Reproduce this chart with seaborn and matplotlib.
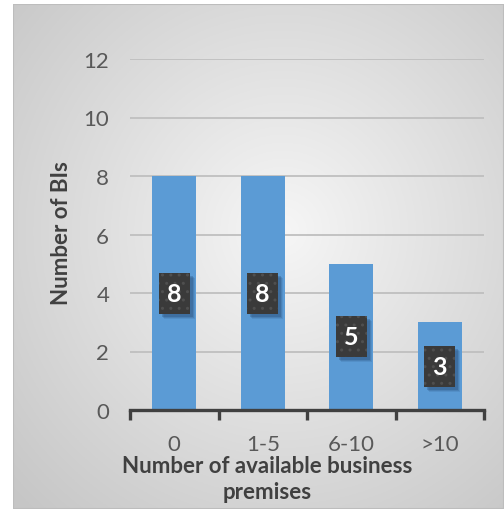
import numpy as np
import pandas as pd
import matplotlib
matplotlib.use("Agg")
import matplotlib.pyplot as plt
import matplotlib.transforms as mtrans
from matplotlib.patches import Rectangle
import seaborn as sns

categories = ["0", "1-5", "6-10", ">10"]
values = [8, 8, 5, 3]
y_ticks = [0, 2, 4, 6, 8, 10, 12]

sns.set_theme(style="white")
plt.rcParams['font.family'] = ['Lato', 'DejaVu Sans']
plt.rcParams['hatch.linewidth'] = 1.0

W, H = 504, 510
fig = plt.figure(figsize=(W / 100, H / 100), dpi=100)
fig.patch.set_facecolor('white')

# gradient background panel
bg = fig.add_axes([13 / W, 0, 1 - 13 / W, 1 - 5 / H])
bg.set_axis_off()
yy, xx = np.mgrid[0:1:300j, 0:1:300j]
r = np.sqrt(((xx - 0.55) / 0.75) ** 2 + ((yy - 0.45) / 0.75) ** 2)
r = np.clip(r, 0, 1)
c0 = np.array([0.965, 0.965, 0.965])
c1 = np.array([0.78, 0.78, 0.78])
img = c0[None, None, :] * (1 - r[..., None]) + c1[None, None, :] * r[..., None]
bg.imshow(img, extent=[0, 1, 0, 1], aspect='auto', origin='upper')
bg.set_xlim(0, 1)
bg.set_ylim(0, 1)
bg.add_patch(Rectangle((0, 0), 1, 1, fill=False, ec='#bdbdbd', lw=1.5,
                       transform=bg.transAxes))

ax = fig.add_axes([130 / W, (H - 411) / H, (484 - 130) / W, (411 - 60) / H])
ax.set_facecolor('none')

df = pd.DataFrame({"cat": categories, "val": values})
sns.barplot(data=df, x="cat", y="val", color="#5B9BD5", saturation=1,
            width=0.5, ax=ax, zorder=3, linewidth=0, edgecolor='none')

ax.set_xlim(-0.5, 3.5)
ax.set_ylim(0, 12)
ax.set_yticks(y_ticks)
ax.grid(axis='y', color='#bfbfbf', lw=1.3, zorder=0)
ax.set_axisbelow(True)
for s in ['top', 'right', 'left']:
    ax.spines[s].set_visible(False)
ax.spines['bottom'].set_color('#404040')
ax.spines['bottom'].set_linewidth(2.4)
ax.spines['bottom'].set_zorder(5)

ax.set_xticks(np.arange(-0.5, 4, 1), minor=True)
ax.tick_params(axis='x', which='minor', length=7, width=2.4, color='#404040',
               direction='out', bottom=True)
ax.tick_params(axis='x', which='major', length=0, pad=17, labelsize=16,
               labelcolor='#595959')
ax.tick_params(axis='y', length=0, pad=15, labelsize=16, labelcolor='#595959')
ax.set_xlabel("")
ax.set_ylabel("")

# value labels in dark boxes
bw, bh = 31 / 88.5, 41 / 29.25
for i, v in enumerate(values):
    for k, (dx, a) in enumerate([(5, 0.12), (4, 0.18), (3, 0.25)]):
        sh = Rectangle((i - bw / 2, v / 2 - bh / 2), bw, bh, fc='#1f3f66',
                       ec='none', alpha=a, zorder=5.5,
                       transform=mtrans.offset_copy(ax.transData, fig=fig,
                                                    x=dx, y=-dx, units='dots'))
        ax.add_patch(sh)
    rect = Rectangle((i - bw / 2, v / 2 - bh / 2), bw, bh, fc='#3a3a3a',
                     ec='#4f4f4f', lw=0, hatch='..', zorder=6)
    ax.add_patch(rect)
    ax.text(i, v / 2, str(v), ha='center', va='center', color='white',
            fontsize=18, fontweight='bold', zorder=7)

fig.text(62 / W, 1 - 233 / H, "Number of BIs", rotation=90, ha='center', va='center',
         fontsize=16, fontweight='bold', color='#404040')
fig.text(267 / W, 1 - 479.5 / H, "Number of available business\npremises",
         ha='center', va='center', fontsize=16, fontweight='bold', color='#404040',
         linespacing=1.3)

fig.savefig("out.png", dpi=100)
